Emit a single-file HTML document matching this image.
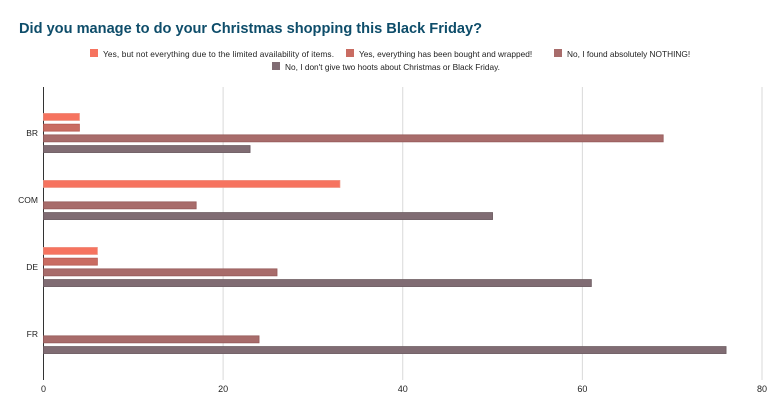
<!DOCTYPE html>
<html><head><meta charset="utf-8"><style>
body{margin:0;background:#fff;font-family:"Liberation Sans",sans-serif;}
svg text{font-family:"Liberation Sans",sans-serif;}
</style></head><body>
<svg width="782" height="415" xmlns="http://www.w3.org/2000/svg">
<text x="19" y="33" font-size="14.6" font-weight="bold" fill="#0e4d6a">Did you manage to do your Christmas shopping this Black Friday?</text>
<g id="legend"></g>
<g id="grid"></g>
<g id="bars"></g>
<g id="labels"></g>
</svg>
<script>
const categories=["BR","COM","DE","FR"];
const seriesNames=["Yes, but not everything due to the limited availability of items.","Yes, everything has been bought and wrapped!","No, I found absolutely NOTHING!","No, I don't give two hoots about Christmas or Black Friday."];
const s1=[4,33,6,0];
const s2=[4,0,6,0];
const s3=[69,17,26,24];
const s4=[23,50,61,76];
const xTicks=[0,20,40,60,80];
const series=[s1,s2,s3,s4];
const colors=["#f6735f","#c96c62","#a86c6b","#806c73"];
const strokes=["#f0907f","#b85a52","#955a5a","#6b5a60"];
const NS="http://www.w3.org/2000/svg";
const x0=43.5,x1=762,yTop=87,yBot=380;
const xs=v=>x0+(v-0)/(80-0)*(x1-x0);
const bandStart=99,bandStep=67,barH=7,barStep=10.7;
function mk(t,a,p){const e=document.createElementNS(NS,t);for(const k in a)e.setAttribute(k,a[k]);p.appendChild(e);return e;}
const grid=document.getElementById('grid'),bars=document.getElementById('bars'),labels=document.getElementById('labels'),legend=document.getElementById('legend');
xTicks.forEach(t=>{
 const l=mk('line',{x1:xs(t),x2:xs(t),y1:yTop,y2:yBot,stroke:t===0?'#333':'#d9d9d9','stroke-width':1},grid);
 
 
 const tx=mk('text',{x:xs(t),y:392,'font-size':9,'text-anchor':'middle',fill:'#222'},labels);
 tx.textContent=t;
 
 
});
categories.forEach((c,i)=>{
 const cy=bandStart+i*bandStep+34;
 const tx=mk('text',{x:38,y:cy+3,'font-size':8.5,'text-anchor':'end',fill:'#222'},labels);
 tx.textContent=c;
 
 
 series.forEach((s,j)=>{
  const v=s[i];if(!v)return;
  const y=cy-2*barStep+j*barStep+(barStep-barH)/2;
  const r=mk('rect',{x:x0,y:y,width:xs(v)-x0,height:barH,fill:colors[j],stroke:strokes[j],'stroke-width':0.8},bars);
  
  
 });
});
const legPos=[[90,57],[346,57],[554,57],[272,70]];
seriesNames.forEach((n,j)=>{
 const g=mk('g',{},legend);
 
 
 mk('rect',{x:legPos[j][0],y:legPos[j][1]-8,width:8,height:8,fill:colors[j]},g);
 const t=mk('text',{x:legPos[j][0]+13,y:legPos[j][1],'font-size':8.3,fill:'#222',textLength:[231,0,0,0][j]||null},g);
 if(j!==0)t.removeAttribute('textLength');
 t.textContent=n;
});
</script>
</body></html>
